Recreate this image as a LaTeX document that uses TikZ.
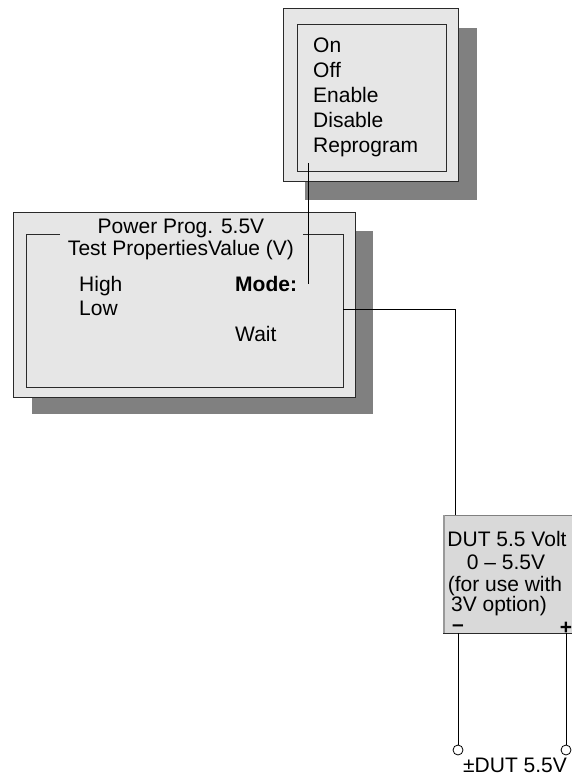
\documentclass[tikz,border=0pt]{standalone}
\usepackage{fontspec}
\setmainfont{Liberation Sans}
\definecolor{boxfill}{HTML}{E6E6E6}
\definecolor{dutfill}{HTML}{D9D9D9}
\definecolor{shadowc}{HTML}{808080}
\definecolor{edgec}{HTML}{2A2A2A}
\begin{document}
\begin{tikzpicture}[x=1pt,y=-1pt,
  lbl/.style={inner sep=0pt,font=\fontsize{21}{25}\selectfont,anchor=base west},
  clbl/.style={inner sep=0pt,font=\fontsize{21}{25}\selectfont,anchor=base},
  panel/.style={draw=edgec,line width=1pt,fill=boxfill},
  frame/.style={draw=edgec,line width=1pt},
  shadowbox/.style={fill=shadowc},
  wire/.style={draw=black,line width=0.9pt},
  sign/.style={inner sep=0pt,font=\fontsize{21}{25}\selectfont\bfseries},
  term/.style={circle,draw=black,fill=white,line width=0.8pt,minimum size=10pt,inner sep=0pt}]
\useasboundingbox (0,0) rectangle (571,783);
\fill[white] (0,0) rectangle (571,783);

% menu box
\fill[shadowbox] (305,28) rectangle (477,200);
\draw[panel] (283,9) rectangle (458,182);
\draw[frame] (297,25) rectangle (446,172);
\node[lbl] (on) at (313,53) {On};
\node[lbl] (off) at (313,78) {Off};
\node[lbl] (en) at (313,103) {Enable};
\node[lbl] (dis) at (313,128) {Disable};
\node[lbl] (rep) at (313,153) {Reprogram};

% main box
\fill[shadowbox] (32,231) rectangle (373,414);
\draw[panel] (13,213) rectangle (355,397);
\draw[frame] (60,235) -- (26,235) -- (26,387) -- (343,387) -- (343,235) -- (303,235);
\node[clbl] (title) at (181,234) {Power Prog. 5.5V};
\node[clbl] (hdr) at (181,255) {Test PropertiesValue (V)};
\node[lbl] (high) at (79,291) {High};
\node[lbl] (low) at (79,315) {Low};
\node[lbl,font=\fontsize{21}{25}\selectfont\bfseries] (mode) at (235,291) {Mode:};
\node[lbl] (wait) at (235,341) {Wait};

% connector menu -> Mode
\coordinate (mtop) at (308,163);
\coordinate (mbot) at (308,284);
\draw[wire] (mtop) -- (mbot);

% DUT box
\node[draw=none,fill=dutfill,minimum width=140pt,minimum height=118pt,inner sep=0pt,anchor=north west] (dut) at (443,515) {};
\draw[draw=gray,line width=0.8pt] (dut.north west) -- (dut.north east);
\draw[draw=gray!80,line width=2pt] ([xshift=1pt]dut.north west) -- ([xshift=1pt]dut.south west);
\draw[draw=edgec,line width=1pt] (dut.south west) -- (dut.south east);
\node[clbl] (d1) at (507,546) {DUT 5.5 Volt};
\node[clbl] (d2) at (506,569) {0 -- 5.5V};
\node[clbl] (d3) at (505,591) {(for use with};
\node[clbl] (d4) at (499,611) {3V option)};
\node[sign] (minus) at (458,624) {\raisebox{-0.33em}[0.1em][0pt]{--}};
\node[sign] (plus) at (566,625) {\raisebox{-0.25em}[0.45em][0pt]{+}};

% connector main -> DUT
\coordinate (mout) at (343,309);
\coordinate (dutin) at (455,515);
\draw[wire] (mout) -| (dutin);

% terminals
\node[term] (tneg) at (458,750) {};
\node[term] (tpos) at (566,750) {};
\coordinate (dneg) at (458,633);
\coordinate (dpos) at (566,633);
\draw[wire] (dneg) -- (tneg);
\draw[wire] (dpos) -- (tpos);
\node[lbl] (out) at (463,772) {±DUT 5.5V};
\end{tikzpicture}
\end{document}
